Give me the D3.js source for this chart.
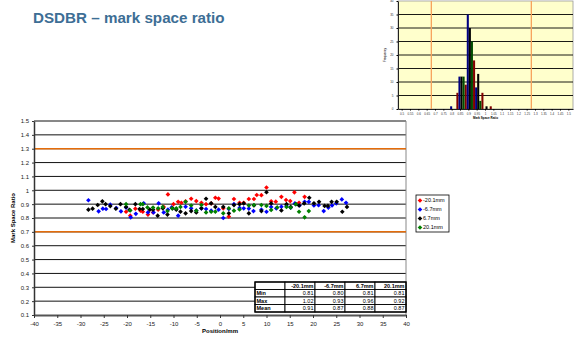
<!DOCTYPE html>
<meta charset="utf-8">
<style>
    body { margin: 0; background: #fff; }
    svg { display: block; font-family: 'Liberation Sans', Arial, sans-serif; }
</style>
<body>
    <div id="chart"></div>

    <script src="https://d3js.org/d3.v7.min.js"></script>

    <script>
        // series (position of the measurement row)
        var seriesNames = ['-20.1mm', '-6.7mm', '6.7mm', '20.1mm']
        var dotColors = ['#ff0000', '#0000ff', '#000000', '#008000']
        var barColors = ['#800000', '#000080', '#000000', '#004d00']

        // scatter values: position (mm) and mark space ratio
        var redX = [-20.2, -19.3, -18.2, -17.1, -16.6, -15.5, -14.4, -13.3, -12.1, -11.2, -10.0, -9.0, -8.3, -7.4, -6.2, -5.1, -4.0, -3.0, -1.9, -1.0, -0.3, 0.7, 1.9, 3.0, 4.2, 5.1, 6.2, 7.3, 7.9, 8.9, 10.0, 11.0, 12.0, 13.2, 14.2, 15.1, 16.0, 17.0, 18.2]
        var redY = [0.845, 0.817, 0.867, 0.853, 0.845, 0.825, 0.84, 0.86, 0.88, 0.97, 0.9, 0.917, 0.91, 0.92, 0.939, 0.922, 0.91, 0.9, 0.905, 0.946, 0.94, 0.87, 0.81, 0.937, 0.91, 0.91, 0.937, 0.937, 0.966, 0.965, 1.02, 0.92, 0.918, 0.953, 0.93, 0.922, 0.985, 0.91, 0.953]

        var blueX = [-28.3, -26.1, -25.2, -24.5, -23.6, -22.3, -21.3, -20.2, -19.2, -18.1, -16.4, -15.5, -14.3, -13.2, -12.1, -11.2, -10.4, -9.0, -7.4, -6.2, -5.1, -4.0, -3.0, -1.9, -0.3, 0.7, 1.9, 3.0, 4.2, 5.1, 6.2, 7.2, 8.9, 10.0, 11.0, 12.1, 13.2, 14.3, 15.2, 16.1, 17.1, 18.2, 19.1, 20.2, 21.2, 22.3, 23.3, 24.1, 25.0, 26.2, 27.1]
        var blueY = [0.928, 0.848, 0.867, 0.865, 0.896, 0.872, 0.848, 0.875, 0.805, 0.83, 0.906, 0.84, 0.84, 0.906, 0.84, 0.86, 0.876, 0.817, 0.881, 0.87, 0.853, 0.87, 0.865, 0.853, 0.86, 0.80, 0.865, 0.9, 0.873, 0.87, 0.868, 0.85, 0.86, 0.845, 0.88, 0.87, 0.882, 0.887, 0.875, 0.905, 0.89, 0.917, 0.917, 0.89, 0.892, 0.85, 0.875, 0.89, 0.906, 0.934, 0.91]

        var blackX = [-28.3, -27.4, -26.3, -25.3, -24.6, -23.6, -22.4, -21.4, -20.2, -19.5, -18.2, -17.3, -16.6, -15.1, -14.4, -13.4, -12.3, -11.3, -10.2, -9.4, -8.5, -7.4, -6.2, -5.1, -4.0, -3.0, -1.9, -1.0, 0.7, 1.9, 3.0, 4.2, 5.1, 6.2, 7.3, 8.9, 10.0, 11.0, 13.2, 14.3, 15.2, 16.3, 17.0, 18.1, 19.2, 20.2, 21.3, 22.5, 23.2, 24.0, 25.1, 26.3, 27.3]
        var blackY = [0.86, 0.867, 0.894, 0.92, 0.9, 0.886, 0.867, 0.9, 0.88, 0.858, 0.9, 0.865, 0.865, 0.86, 0.86, 0.817, 0.87, 0.825, 0.87, 0.86, 0.846, 0.834, 0.85, 0.84, 0.87, 0.939, 0.906, 0.88, 0.88, 0.834, 0.893, 0.9, 0.905, 0.834, 0.89, 0.85, 0.986, 0.905, 0.855, 0.9, 0.88, 0.9, 0.89, 0.905, 0.946, 0.906, 0.917, 0.887, 0.887, 0.917, 0.917, 0.845, 0.88]

        var greenX = [-20.2, -19.3, -17.1, -16.6, -15.6, -14.4, -13.3, -12.3, -11.3, -10.3, -9.4, -8.5, -7.4, -6.2, -5.1, -4.0, -3.0, -1.9, -1.0, 0.7, 1.9, 3.0, 4.2, 6.2, 7.3, 8.9, 10.0, 11.0, 12.3, 14.3, 15.2, 16.3, 17.0, 18.2, 19.1]
        var greenY = [0.9, 0.855, 0.9, 0.9, 0.876, 0.875, 0.87, 0.88, 0.85, 0.87, 0.87, 0.88, 0.917, 0.89, 0.853, 0.894, 0.84, 0.845, 0.846, 0.834, 0.87, 0.853, 0.862, 0.89, 0.894, 0.894, 0.887, 0.858, 0.876, 0.88, 0.875, 0.9, 0.845, 0.805, 0.85]

        // spec limits
        var limits = [0.7, 1.3]

        // axis ticks
        var xTicks = [-40, -35, -30, -25, -20, -15, -10, -5, 0, 5, 10, 15, 20, 25, 30, 35, 40]
        var yTicks = [0.1, 0.2, 0.3, 0.4, 0.5, 0.6, 0.7, 0.8, 0.9, 1, 1.1, 1.2, 1.3, 1.4, 1.5]

        // summary table
        var statMin = ['0.81', '0.80', '0.81', '0.81']
        var statMax = ['1.02', '0.93', '0.96', '0.92']
        var statMean = ['0.91', '0.87', '0.88', '0.87']

        // histogram (inset)
        var histBins = ['0.5', '0.55', '0.6', '0.65', '0.7', '0.75', '0.8', '0.85', '0.9', '0.95', '1', '1.05', '1.1', '1.15', '1.2', '1.25', '1.3', '1.35', '1.4', '1.45', '1.5']
        var histRed   = [0, 0, 0, 0, 0, 0, 0, 6, 9, 18, 6, 1, 0, 0, 0, 0, 0, 0, 0, 0, 0]
        var histBlue  = [0, 0, 0, 0, 0, 0, 1, 12, 35, 8, 0, 0, 0, 0, 0, 0, 0, 0, 0, 0, 0]
        var histBlack = [0, 0, 0, 0, 0, 0, 0, 12, 30, 13, 1, 0, 0, 0, 0, 0, 0, 0, 0, 0, 0]
        var histGreen = [0, 0, 0, 0, 0, 0, 0, 12, 25, 3, 0, 0, 0, 0, 0, 0, 0, 0, 0, 0, 0]
        var histTicks = [0, 5, 10, 15, 20, 25, 30, 35, 40]

        var W = 575, H = 338
        var svg = d3.select('#chart').append('svg')
            .attr('width', W)
            .attr('height', H)

        // title
        svg.append('text')
            .attr('x', 33)
            .attr('y', 23)
            .style('font-size', '15.2px')
            .style('font-weight', 'bold')
            .style('fill', '#3d6e95')
            .text('DSDBR \u2013 mark space ratio')

        // ---------- main scatter ----------
        var x = d3.scaleLinear().domain([-40, 40]).range([34, 406])
        var y = d3.scaleLinear().domain([0.1, 1.5]).range([315, 121])

        var main = svg.append('g')

        main.selectAll('.grid')
            .data(yTicks.slice(1))
            .enter().append('line')
            .attr('class', 'grid')
            .attr('x1', x(-40))
            .attr('x2', x(40))
            .attr('y1', function (d) { return y(d) })
            .attr('y2', function (d) { return y(d) })
            .style('stroke', '#111')
            .style('stroke-width', 1)

        // right border of the plot area
        main.append('line')
            .attr('x1', x(40)).attr('x2', x(40))
            .attr('y1', y(1.5)).attr('y2', y(0.1))
            .style('stroke', '#888')

        main.selectAll('.limit')
            .data(limits)
            .enter().append('line')
            .attr('class', 'limit')
            .attr('x1', x(-40))
            .attr('x2', x(40))
            .attr('y1', function (d) { return y(d) })
            .attr('y2', function (d) { return y(d) })
            .style('stroke', '#e46c0a')
            .style('stroke-width', 1.5)

        var gx = main.append('g')
            .attr('transform', 'translate(0,' + y(0.1) + ')')
            .call(d3.axisBottom(x).tickValues(xTicks).tickSize(3).tickSizeOuter(0)
                .tickFormat(function (d) { return String(d) }))
        gx.select('.domain').style('stroke', '#555').style('stroke-width', 2)
        gx.selectAll('.tick line').style('stroke', '#333')
        gx.selectAll('text').style('font-size', '6px').style('fill', '#222').attr('dy', '0.9em')

        var gy = main.append('g')
            .attr('transform', 'translate(' + x(-40) + ',0)')
            .call(d3.axisLeft(y).tickValues(yTicks).tickSize(2).tickSizeOuter(0)
                .tickFormat(function (d) { return d === 1 ? '1' : d3.format('.1f')(d) }))
        gy.select('.domain').style('stroke', '#333').style('stroke-width', 1.5)
        gy.selectAll('.tick line').style('stroke', '#333')
        gy.selectAll('text').style('font-size', '6px').style('fill', '#222')

        main.append('text')
            .attr('transform', 'translate(15,' + ((y(0.1) + y(1.5)) / 2) + ') rotate(-90)')
            .attr('text-anchor', 'middle')
            .style('font-size', '6px')
            .style('font-weight', 'bold')
            .text('Mark Space Ratio')

        main.append('text')
            .attr('x', (x(-40) + x(40)) / 2)
            .attr('y', 333)
            .attr('text-anchor', 'middle')
            .style('font-size', '6px')
            .style('font-weight', 'bold')
            .text('Position/mm')

        var series = [[redX, redY], [blueX, blueY], [blackX, blackY], [greenX, greenY]]
        var marker = d3.symbol().type(d3.symbolSquare).size(11)

        series.forEach(function (s, i) {
            var pts = s[0].map(function (v, j) { return { pos: v, val: s[1][j] } })
            main.append('g').selectAll('path')
                .data(pts)
                .enter().append('path')
                .attr('d', marker)
                .attr('transform', function (d) { return 'translate(' + x(d.pos) + ',' + y(d.val) + ') rotate(45)' })
                .style('fill', dotColors[i])
        })

        // legend
        var lg = svg.append('g').attr('transform', 'translate(416,195)')
        lg.append('rect')
            .attr('width', 33).attr('height', 37)
            .style('fill', '#fff').style('stroke', '#000').style('stroke-width', 0.8)
        seriesNames.forEach(function (n, i) {
            var row = lg.append('g').attr('transform', 'translate(0,' + (5.5 + i * 9) + ')')
            row.append('path')
                .attr('d', marker)
                .attr('transform', 'translate(4,0) rotate(45)')
                .style('fill', dotColors[i])
            row.append('text')
                .attr('x', 7).attr('dy', '0.35em')
                .style('font-size', '5.5px')
                .text(n)
        })

        // stats table
        var tbl = svg.append('g').attr('transform', 'translate(255,282)')
        var colX = [0, 30, 60, 90, 120, 151]
        var rowH = 7.5
        var cells = [[''].concat(seriesNames), ['Min'].concat(statMin), ['Max'].concat(statMax), ['Mean'].concat(statMean)]
        cells.forEach(function (row, r) {
            row.forEach(function (c, k) {
                tbl.append('rect')
                    .attr('x', colX[k]).attr('y', r * rowH)
                    .attr('width', colX[k + 1] - colX[k]).attr('height', rowH)
                    .style('fill', '#fff').style('stroke', '#000').style('stroke-width', 0.9)
                tbl.append('text')
                    .attr('x', k === 0 ? colX[k] + 1.5 : colX[k + 1] - 1.5)
                    .attr('y', r * rowH + rowH / 2)
                    .attr('dy', '0.35em')
                    .attr('text-anchor', k === 0 ? 'start' : 'end')
                    .style('font-size', '5.5px')
                    .style('font-weight', (r === 0 || k === 0) ? 'bold' : 'normal')
                    .text(c)
            })
        })
        tbl.append('rect')
            .attr('width', colX[5]).attr('height', rowH * 4)
            .style('fill', 'none').style('stroke', '#000').style('stroke-width', 1.3)

        // ---------- histogram inset ----------
        var hx = d3.scaleBand().domain(histBins).range([398, 573]).padding(0)
        var hs = d3.scaleBand().domain(seriesNames).range([0, hx.bandwidth()]).paddingInner(0).paddingOuter(0.02)
        var hy = d3.scaleLinear().domain([0, 40]).range([109, 1])

        var hist = svg.append('g')
        hist.append('rect')
            .attr('x', 398).attr('y', hy(40))
            .attr('width', 573 - 398).attr('height', hy(0) - hy(40))
            .style('fill', '#ffffcc')
            .style('stroke', '#999').style('stroke-width', 0.8)

        hist.selectAll('.hgrid')
            .data(histTicks.slice(1, -1))
            .enter().append('line')
            .attr('x1', 398).attr('x2', 573)
            .attr('y1', function (d) { return hy(d) })
            .attr('y2', function (d) { return hy(d) })
            .style('stroke', '#000').style('stroke-width', 0.9)

        hist.selectAll('.hlimit')
            .data(limits)
            .enter().append('line')
            .attr('x1', function (d) { return hx(String(d)) })
            .attr('x2', function (d) { return hx(String(d)) })
            .attr('y1', hy(40)).attr('y2', hy(0))
            .style('stroke', '#f7a35c').style('stroke-width', 1.3)

        var counts = [histRed, histBlue, histBlack, histGreen]
        counts.forEach(function (arr, i) {
            hist.append('g').selectAll('rect')
                .data(arr.map(function (v, j) { return { bin: histBins[j], n: v } }).filter(function (d) { return d.n > 0 }))
                .enter().append('rect')
                .attr('x', function (d) { return hx(d.bin) + hs(seriesNames[i]) })
                .attr('width', hs.bandwidth())
                .attr('y', function (d) { return hy(d.n) })
                .attr('height', function (d) { return hy(0) - hy(d.n) })
                .style('fill', barColors[i])
        })

        var hgx = hist.append('g')
            .attr('transform', 'translate(0,' + hy(0) + ')')
            .call(d3.axisBottom(hx).tickSize(1.5).tickSizeOuter(0))
        hgx.select('.domain').style('stroke', '#222').style('stroke-width', 1.2)
        hgx.selectAll('text').style('font-size', '3px').style('fill', '#333').attr('dy', '0.6em')

        var hgy = hist.append('g')
            .attr('transform', 'translate(398,0)')
            .call(d3.axisLeft(hy).tickValues(histTicks).tickSize(1.5).tickSizeOuter(0))
        hgy.select('.domain').style('stroke', '#222')
        hgy.selectAll('text').style('font-size', '3px').style('fill', '#333')

        hist.append('text')
            .attr('transform', 'translate(386,' + ((hy(0) + hy(40)) / 2) + ') rotate(-90)')
            .attr('text-anchor', 'middle')
            .style('font-size', '3px')
            .text('Frequency')

        hist.append('text')
            .attr('x', (398 + 573) / 2).attr('y', 119)
            .attr('text-anchor', 'middle')
            .style('font-size', '3px')
            .style('font-weight', 'bold')
            .text('Mark Space Ratio')
    </script>
</body>
